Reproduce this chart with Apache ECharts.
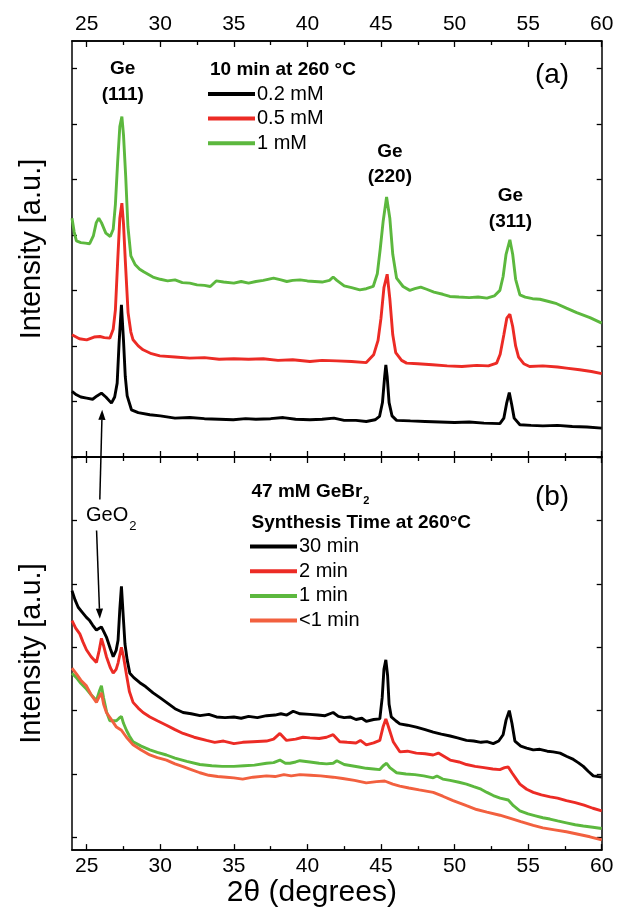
<!DOCTYPE html>
<html><head><meta charset="utf-8">
<script src="https://cdn.jsdelivr.net/npm/echarts@6/dist/echarts.min.js"></script>
<style>html,body{margin:0;padding:0;background:#fff}#c{width:617px;height:909px}</style>
</head><body><div id="c"></div>
<script>
// ---------- tick values ----------
const xMajor = [25, 30, 35, 40, 45, 50, 55, 60];
const xMinor = [27.5, 32.5, 37.5, 42.5, 47.5, 52.5, 57.5];
const yTicksA = [0, 1, 2, 3, 4, 5, 6, 7];
const yTicksB = [0, 1, 2, 3, 4, 5, 6];

// ---------- panel (a): 10 min at 260 °C ----------
const a_02mM = [[24.0,1.18],[24.3,1.12],[24.6,1.08],[25.0,1.06],[25.4,1.04],[25.7,1.10],[26.0,1.15],[26.3,1.08],[26.68,0.97],[26.9,1.08],[27.07,1.33],[27.2,2.05],[27.36,2.74],[27.5,2.1],[27.62,1.45],[27.75,1.10],[28.04,0.85],[28.5,0.80],[29.29,0.76],[30.0,0.74],[31.0,0.70],[32.0,0.71],[33.0,0.69],[34.0,0.68],[34.96,0.67],[35.8,0.69],[36.5,0.68],[37.5,0.69],[38.36,0.71],[39.2,0.68],[40.17,0.67],[41.0,0.68],[41.8,0.70],[42.5,0.66],[43.3,0.66],[44.0,0.64],[44.6,0.67],[44.9,0.73],[45.1,0.98],[45.25,1.45],[45.33,1.66],[45.42,1.45],[45.55,0.98],[45.75,0.74],[46.06,0.66],[47.0,0.65],[48.0,0.64],[49.0,0.63],[50.0,0.62],[51.0,0.63],[52.0,0.61],[53.08,0.60],[53.35,0.70],[53.55,0.98],[53.72,1.16],[53.88,0.95],[54.05,0.70],[54.44,0.58],[55.2,0.57],[56.0,0.56],[57.0,0.57],[58.0,0.55],[59.0,0.54],[60,0.52]];
const a_05mM = [[24.0,2.20],[24.5,2.13],[25.0,2.11],[25.5,2.16],[25.9,2.17],[26.2,2.15],[26.57,2.14],[26.8,2.30],[26.95,2.65],[27.1,3.50],[27.25,4.30],[27.39,4.57],[27.5,4.20],[27.62,3.55],[27.81,2.60],[28.0,2.25],[28.15,2.11],[28.5,2.0],[28.83,1.93],[29.4,1.86],[29.97,1.82],[31.0,1.80],[32.0,1.78],[33.0,1.79],[34.0,1.76],[35.0,1.77],[36.0,1.76],[37.0,1.77],[38.0,1.74],[39.0,1.75],[40.17,1.72],[41.0,1.74],[42.0,1.73],[43.0,1.72],[44.0,1.70],[44.5,1.84],[44.8,2.10],[45.0,2.50],[45.2,3.05],[45.42,3.29],[45.6,2.85],[45.8,2.20],[46.0,1.88],[46.4,1.74],[46.74,1.69],[47.5,1.68],[48.5,1.66],[49.5,1.64],[50.5,1.63],[51.5,1.65],[52.3,1.64],[52.86,1.69],[53.1,1.85],[53.35,2.20],[53.55,2.50],[53.76,2.57],[53.95,2.35],[54.15,2.00],[54.35,1.80],[54.7,1.68],[55.1,1.63],[56.0,1.64],[57.0,1.62],[57.6,1.60],[58.5,1.57],[59.3,1.54],[60,1.50]];
const a_1mM = [[24.0,4.30],[24.15,4.05],[24.3,3.89],[24.6,3.86],[24.9,3.85],[25.2,3.84],[25.45,3.98],[25.65,4.22],[25.82,4.30],[26.0,4.22],[26.3,4.03],[26.6,3.97],[26.8,4.10],[26.95,4.55],[27.1,5.30],[27.25,5.95],[27.39,6.13],[27.5,5.80],[27.65,5.05],[27.8,4.15],[28.0,3.62],[28.3,3.46],[28.6,3.38],[28.9,3.33],[29.5,3.24],[30.0,3.20],[30.5,3.17],[31.0,3.19],[31.5,3.14],[32.0,3.13],[32.5,3.10],[33.0,3.09],[33.4,3.07],[33.8,3.17],[34.3,3.15],[35.0,3.13],[35.5,3.16],[36.0,3.13],[36.5,3.16],[37.0,3.18],[37.7,3.22],[38.2,3.19],[38.6,3.16],[39.0,3.18],[39.5,3.19],[40.0,3.17],[40.5,3.16],[41.0,3.15],[41.5,3.18],[41.75,3.24],[42.0,3.18],[42.5,3.08],[43.0,3.05],[43.56,3.01],[44.0,3.03],[44.47,3.07],[44.75,3.30],[44.95,3.75],[45.15,4.25],[45.38,4.68],[45.6,4.30],[45.8,3.65],[46.06,3.22],[46.5,3.07],[46.96,3.00],[47.3,3.03],[47.7,3.06],[48.1,3.02],[48.6,2.97],[49.2,2.93],[49.68,2.89],[50.3,2.88],[51.0,2.87],[51.6,2.88],[52.2,2.86],[52.7,2.90],[53.08,3.00],[53.3,3.25],[53.5,3.65],[53.76,3.91],[53.95,3.65],[54.15,3.20],[54.44,2.92],[54.8,2.88],[55.3,2.85],[55.8,2.84],[56.4,2.80],[56.94,2.76],[57.6,2.68],[58.3,2.60],[59.2,2.51],[60,2.41]];

// ---------- panel (b): 47 mM GeBr2, synthesis time at 260 °C ----------
const b_30min = [[24.0,3.89],[24.2,3.75],[24.42,3.63],[24.7,3.55],[24.98,3.47],[25.2,3.42],[25.4,3.35],[25.66,3.27],[25.85,3.30],[26.0,3.32],[26.15,3.25],[26.34,3.16],[26.6,2.98],[26.8,2.85],[27.0,2.95],[27.13,3.11],[27.25,3.60],[27.36,3.96],[27.48,3.50],[27.6,3.05],[27.75,2.80],[27.93,2.59],[28.2,2.52],[28.61,2.44],[29.0,2.38],[29.51,2.28],[30.0,2.20],[30.42,2.13],[31.0,2.03],[31.55,1.97],[32.1,1.95],[32.7,1.92],[33.3,1.94],[33.82,1.90],[34.4,1.89],[35.0,1.90],[35.5,1.88],[36.0,1.91],[36.6,1.89],[37.22,1.92],[37.8,1.93],[38.2,1.95],[38.6,1.93],[39.03,1.99],[39.5,1.95],[40.17,1.94],[40.7,1.93],[41.2,1.92],[41.75,1.97],[42.1,1.91],[42.5,1.89],[42.9,1.90],[43.3,1.86],[43.7,1.88],[44.0,1.83],[44.5,1.86],[44.92,1.87],[45.08,2.20],[45.2,2.65],[45.33,2.80],[45.45,2.55],[45.55,2.10],[45.7,1.90],[46.0,1.84],[46.28,1.79],[46.8,1.77],[47.4,1.74],[48.0,1.70],[48.55,1.66],[49.1,1.63],[49.7,1.60],[50.2,1.57],[50.81,1.53],[51.3,1.52],[51.8,1.50],[52.2,1.51],[52.63,1.48],[53.0,1.52],[53.3,1.62],[53.5,1.85],[53.72,2.00],[53.9,1.80],[54.1,1.52],[54.5,1.44],[54.9,1.41],[55.35,1.38],[55.8,1.39],[56.3,1.36],[56.7,1.35],[57.17,1.33],[57.6,1.28],[58.0,1.24],[58.4,1.18],[58.75,1.12],[59.1,1.04],[59.43,0.97],[60,0.95]];
const b_2min = [[24.0,3.42],[24.25,3.30],[24.53,3.21],[24.75,3.08],[24.98,2.96],[25.3,2.85],[25.66,2.76],[25.85,2.95],[26.0,3.14],[26.15,3.02],[26.34,2.85],[26.6,2.68],[26.8,2.59],[27.0,2.65],[27.13,2.75],[27.36,3.00],[27.5,2.85],[27.7,2.57],[27.9,2.30],[28.15,2.13],[28.5,2.04],[28.83,1.97],[29.3,1.90],[29.8,1.84],[30.42,1.77],[31.0,1.70],[31.55,1.64],[32.3,1.58],[33.14,1.53],[33.7,1.50],[34.3,1.52],[35.0,1.48],[35.6,1.50],[36.3,1.51],[37.22,1.52],[37.7,1.55],[38.13,1.64],[38.58,1.53],[39.2,1.55],[39.7,1.58],[40.17,1.57],[40.8,1.56],[41.3,1.58],[41.75,1.62],[42.2,1.51],[42.7,1.50],[43.3,1.49],[43.6,1.53],[44.0,1.46],[44.5,1.49],[44.92,1.53],[45.15,1.75],[45.33,1.87],[45.5,1.75],[45.83,1.51],[46.28,1.35],[46.8,1.36],[47.4,1.33],[48.0,1.32],[48.55,1.30],[48.9,1.33],[49.7,1.22],[50.3,1.19],[50.81,1.15],[51.4,1.12],[52.0,1.10],[52.6,1.08],[53.08,1.07],[53.4,1.10],[53.65,1.11],[53.9,1.02],[54.2,0.92],[54.44,0.84],[54.9,0.76],[55.35,0.71],[55.9,0.67],[56.5,0.64],[57.0,0.62],[57.6,0.58],[58.2,0.55],[58.8,0.51],[59.4,0.46],[60,0.42]];
const b_1min = [[24.0,2.59],[24.3,2.52],[24.6,2.43],[24.98,2.34],[25.3,2.25],[25.66,2.16],[25.85,2.30],[26.0,2.39],[26.15,2.20],[26.35,1.98],[26.57,1.84],[26.8,1.84],[27.02,1.84],[27.2,1.88],[27.36,1.91],[27.5,1.80],[27.7,1.69],[27.9,1.60],[28.15,1.51],[28.7,1.44],[29.29,1.38],[29.8,1.34],[30.42,1.30],[31.0,1.25],[31.8,1.20],[32.69,1.15],[33.5,1.13],[34.2,1.12],[35.0,1.12],[35.7,1.13],[36.4,1.14],[37.22,1.17],[37.7,1.18],[38.13,1.22],[38.5,1.17],[38.81,1.17],[39.2,1.19],[39.49,1.21],[40.17,1.19],[40.8,1.17],[41.3,1.16],[41.75,1.17],[42.0,1.21],[42.5,1.15],[43.0,1.13],[43.5,1.11],[44.0,1.09],[44.5,1.08],[44.92,1.07],[45.15,1.13],[45.38,1.17],[45.6,1.10],[46.06,1.02],[46.7,1.00],[47.3,0.99],[47.9,0.97],[48.55,0.94],[48.8,0.97],[49.2,0.92],[49.7,0.90],[50.3,0.87],[50.81,0.84],[51.3,0.80],[51.8,0.76],[52.2,0.71],[52.63,0.66],[53.1,0.62],[53.65,0.59],[54.0,0.50],[54.44,0.42],[55.0,0.37],[55.5,0.34],[56.0,0.31],[56.48,0.29],[57.0,0.26],[57.6,0.23],[58.2,0.20],[58.75,0.18],[59.4,0.16],[60,0.14]];
const b_lt1min = [[24.0,2.67],[24.3,2.58],[24.6,2.48],[24.98,2.39],[25.3,2.25],[25.66,2.13],[25.85,2.22],[26.0,2.28],[26.15,2.10],[26.34,1.97],[26.7,1.85],[27.02,1.74],[27.36,1.69],[27.7,1.58],[28.15,1.46],[28.7,1.38],[29.29,1.30],[29.8,1.26],[30.42,1.22],[31.0,1.16],[31.5,1.12],[32.1,1.07],[32.69,1.02],[33.3,0.98],[33.9,0.96],[34.5,0.95],[35.0,0.94],[35.6,0.92],[36.3,0.95],[37.22,0.97],[37.8,0.96],[38.4,0.99],[38.9,0.97],[39.49,0.99],[40.2,0.98],[40.9,0.97],[41.75,0.95],[42.4,0.93],[43.2,0.90],[44.0,0.86],[44.7,0.88],[45.25,0.89],[45.8,0.84],[46.28,0.81],[46.9,0.78],[47.6,0.75],[48.55,0.71],[49.2,0.65],[49.9,0.58],[50.81,0.50],[51.5,0.44],[52.2,0.40],[53.08,0.35],[53.8,0.30],[54.5,0.25],[55.35,0.19],[56.0,0.15],[56.8,0.12],[57.6,0.09],[58.4,0.05],[59.2,0.01],[60,-0.04]];

// ---------- names ----------
const namesA = ['0.2 mM', '0.5 mM', '1 mM'];
const namesB = ['30 min', '2 min', '1 min', '<1 min'];

const FONT = '"Liberation Sans", Arial, Helvetica, sans-serif';
const C_BLACK = '#000000', C_RED = '#ec2b25', C_GREEN = '#5cb83e', C_ORANGE = '#f2603f';

const chart = echarts.init(document.getElementById('c'), null, {renderer: 'canvas'});

function xAx(gi, pos, ticks, len, extra) {
  return Object.assign({
    gridIndex: gi, type: 'value', position: pos, min: 24, max: 60,
    axisLine: {show: true, onZero: false, lineStyle: {color: '#000', width: 1.5}},
    axisTick: {show: true, inside: true, length: len, customValues: ticks, lineStyle: {color: '#000', width: 1.3}},
    axisLabel: {show: false}, splitLine: {show: false}
  }, extra || {});
}
function yAx(gi, pos, min, max, ticks, extra) {
  return Object.assign({
    gridIndex: gi, type: 'value', position: pos, min: min, max: max,
    axisLine: {show: true, onZero: false, lineStyle: {color: '#000', width: 1.5}},
    axisTick: {show: true, inside: true, length: 5, customValues: ticks, lineStyle: {color: '#000', width: 1.3}},
    axisLabel: {show: false}, splitLine: {show: false}
  }, extra || {});
}
const tickLabel = {show: true, customValues: xMajor, fontSize: 21, color: '#000', fontFamily: FONT};

function ser(name, data, color, xi, yi) {
  return {name: name, type: 'line', data: data, xAxisIndex: xi, yAxisIndex: yi, showSymbol: false, symbol: 'none',
    color: color, lineStyle: {color: color, width: 2.9}, smooth: false, z: 3};
}

const option = {
  animation: false,
  backgroundColor: '#fff',
  grid: [
    {left: 72, right: 15.3, top: 41, height: 416},
    {left: 72, right: 15.3, top: 457, height: 400}
  ],
  xAxis: [
    xAx(0, 'bottom', xMajor, 6),
    xAx(0, 'bottom', xMinor, 4),
    xAx(0, 'top', xMajor, 6, {axisLabel: Object.assign({}, tickLabel, {margin: 6})}),
    xAx(0, 'top', xMinor, 4),
    xAx(1, 'top', xMajor, 6),
    xAx(1, 'top', xMinor, 4),
    xAx(1, 'bottom', xMajor, 6, {axisLabel: Object.assign({}, tickLabel, {margin: 6}),
      name: '2θ (degrees)', nameLocation: 'middle', nameGap: 27,
      nameTextStyle: {fontSize: 30, color: '#000', fontFamily: FONT, padding: [0, 50, 0, 0]}}),
    xAx(1, 'bottom', xMinor, 4)
  ],
  yAxis: [
    yAx(0, 'left', 0, 7.49, yTicksA, {name: 'Intensity [a.u.]', nameLocation: 'middle', nameGap: 26, nameRotate: 90,
      nameTextStyle: {fontSize: 29, color: '#000', fontFamily: FONT}}),
    yAx(0, 'right', 0, 7.49, yTicksA),
    yAx(1, 'left', -0.2, 6, yTicksB, {name: 'Intensity [a.u.]', nameLocation: 'middle', nameGap: 26, nameRotate: 90,
      nameTextStyle: {fontSize: 29, color: '#000', fontFamily: FONT}}),
    yAx(1, 'right', -0.2, 6, yTicksB)
  ],
  legend: [
    {data: namesA, orient: 'vertical', left: 208, top: 84, icon: 'rect', itemWidth: 47, itemHeight: 4, itemGap: 4.6,
      padding: 0, selectedMode: false, textStyle: {fontSize: 20, color: '#000', fontFamily: FONT, padding: [0, 0, 0, -3]}},
    {data: namesB, orient: 'vertical', left: 250, top: 536.5, icon: 'rect', itemWidth: 47, itemHeight: 4, itemGap: 4.7,
      padding: 0, selectedMode: false, textStyle: {fontSize: 20, color: '#000', fontFamily: FONT, padding: [0, 0, 0, -3]}}
  ],
  series: [
    ser(namesA[0], a_02mM, C_BLACK, 0, 0),
    ser(namesA[1], a_05mM, C_RED, 0, 0),
    ser(namesA[2], a_1mM, C_GREEN, 0, 0),
    ser(namesB[0], b_30min, C_BLACK, 6, 2),
    ser(namesB[1], b_2min, C_RED, 6, 2),
    ser(namesB[2], b_1min, C_GREEN, 6, 2),
    ser(namesB[3], b_lt1min, C_ORANGE, 6, 2)
  ]
};
chart.setOption(option);

// ---------- annotations (anchored to data coordinates) ----------
const peakLabels = [
  {text: 'Ge\n(111)', x: 27.45, y: 6.75},
  {text: 'Ge\n(220)', x: 45.6, y: 5.27},
  {text: 'Ge\n(311)', x: 53.8, y: 4.47}
];
const toA = p => chart.convertToPixel({xAxisIndex: 0, yAxisIndex: 0}, p);
const toB = p => chart.convertToPixel({xAxisIndex: 6, yAxisIndex: 2}, p);

const mctx = document.createElement('canvas').getContext('2d');
function textW(str, font) { mctx.font = font; return mctx.measureText(str).width; }

function arrow(p0, p1) {
  const dx = p1[0] - p0[0], dy = p1[1] - p0[1];
  const len = Math.sqrt(dx * dx + dy * dy), ux = dx / len, uy = dy / len;
  const hl = 10, hw = 3.6;
  const bx = p1[0] - ux * hl, by = p1[1] - uy * hl;
  return [
    {type: 'polyline', shape: {points: [p0, [bx, by]]}, style: {stroke: '#000', lineWidth: 1.5, fill: null}, z: 10},
    {type: 'polygon', shape: {points: [p1, [bx - uy * hw, by + ux * hw], [bx + uy * hw, by - ux * hw]]}, style: {fill: '#000'}, z: 10}
  ];
}

const g = [];
peakLabels.forEach(l => {
  const p = toA([l.x, l.y]);
  g.push({type: 'text', x: p[0], y: p[1], z: 10, style: {text: l.text, fill: '#000',
    font: 'bold 19px ' + FONT, lineHeight: 25.7, align: 'center', verticalAlign: 'middle',
    textAlign: 'center', textVerticalAlign: 'middle'}});
});
// panel tags
g.push({type: 'text', x: 552, y: 75, z: 10, style: {text: '(a)', fill: '#000', font: '28px ' + FONT, align: 'center', verticalAlign: 'middle', textAlign: 'center', textVerticalAlign: 'middle'}});
g.push({type: 'text', x: 552, y: 497, z: 10, style: {text: '(b)', fill: '#000', font: '28px ' + FONT, align: 'center', verticalAlign: 'middle', textAlign: 'center', textVerticalAlign: 'middle'}});
// legend headers
g.push({type: 'text', x: 210, y: 70, z: 10, style: {text: '10 min at 260 °C', fill: '#000', font: 'bold 19px ' + FONT, align: 'left', verticalAlign: 'middle', textAlign: 'left', textVerticalAlign: 'middle'}});
const hb = '47 mM GeBr', hbFont = 'bold 19px ' + FONT;
g.push({type: 'text', x: 251.5, y: 491.5, z: 10, style: {text: hb, fill: '#000', font: hbFont, align: 'left', verticalAlign: 'middle', textAlign: 'left', textVerticalAlign: 'middle'}});
g.push({type: 'text', x: 251.5 + textW(hb, hbFont) + 1, y: 501, z: 10, style: {text: '2', fill: '#000', font: 'bold 11px ' + FONT, align: 'left', verticalAlign: 'middle', textAlign: 'left', textVerticalAlign: 'middle'}});
g.push({type: 'text', x: 251.5, y: 523, z: 10, style: {text: 'Synthesis Time at 260°C', fill: '#000', font: 'bold 19px ' + FONT, align: 'left', verticalAlign: 'middle', textAlign: 'left', textVerticalAlign: 'middle'}});
// GeO2 label and arrows
const geo = toB([25.9, 5.07]);
const geoFont = '20px ' + FONT;
g.push({type: 'text', x: geo[0] - 14, y: geo[1], z: 10, style: {text: 'GeO', fill: '#000', font: geoFont, align: 'left', verticalAlign: 'middle', textAlign: 'left', textVerticalAlign: 'middle'}});
g.push({type: 'text', x: geo[0] - 14 + textW('GeO', geoFont) + 1, y: geo[1] + 10, z: 10, style: {text: '2', fill: '#000', font: '13px ' + FONT, align: 'left', verticalAlign: 'middle', textAlign: 'left', textVerticalAlign: 'middle'}});
arrow(toB([25.89, 5.33]), toA([26.05, 0.85])).forEach(e => g.push(e));
arrow(toB([25.67, 4.84]), toB([25.89, 3.45])).forEach(e => g.push(e));

chart.setOption({graphic: g});
</script>
</body></html>
